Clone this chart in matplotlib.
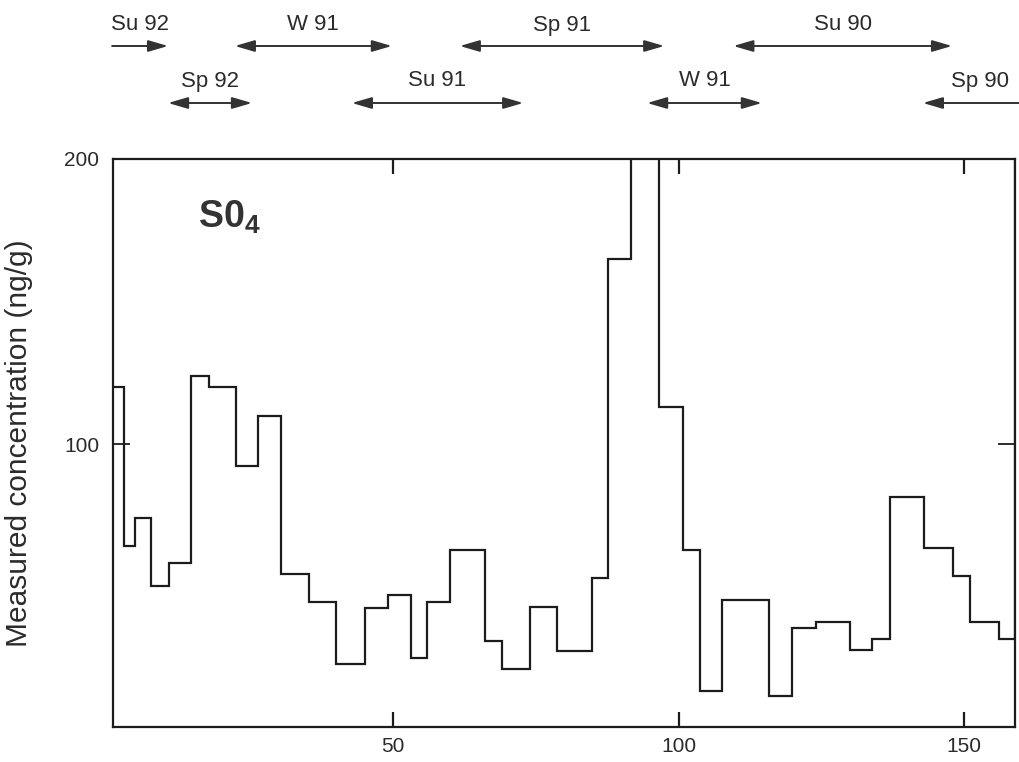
import matplotlib
matplotlib.use("Agg")
import matplotlib.pyplot as plt

# ---- data ----
edges = [1.0, 2.9, 4.8, 7.7, 10.8, 14.6, 17.7, 22.5, 26.4, 30.3,
         35.3, 40.1, 45.1, 49.2, 53.1, 55.9, 60.0, 66.1, 69.1, 74.0,
         78.8, 84.8, 87.7, 91.6, 96.6, 100.7, 103.8, 107.7, 115.9, 119.8,
         124.0, 130.0, 133.9, 137.0, 143.0, 148.1, 151.0, 156.1, 158.9, 161.0]
so4 = [120, 64.3, 74, 50.4, 58.4, 123.8, 120.1, 92.4, 109.8, 54.5,
       44.8, 22.9, 42.8, 47.1, 25.0, 44.8, 62.9, 31.1, 21.4, 43.0,
       27.5, 53.2, 164.8, 240, 113.1, 63.1, 13.5, 45.4, 11.7, 35.7,
       37.8, 27.8, 31.7, 81.5, 63.7, 53.9, 37.8, 31.7, 240]

season_labels = ["Su 92", "W 91", "Sp 91", "Su 90", "Sp 92", "Su 91", "W 91", "Sp 90"]
season_start = [0.8, 22.3, 61.7, 109.6, 10.6, 42.8, 94.5, 142.8]
season_end = [10.6, 49.8, 97.5, 147.9, 25.3, 72.8, 114.6, 163.0]
season_row = [0, 0, 0, 0, 1, 1, 1, 1]
season_heads = ["-|>", "<|-|>", "<|-|>", "<|-|>", "<|-|>", "<|-|>", "<|-|>", "<|-"]

xticks = [50, 100, 150]
yticks = [100, 200]

# ---- style ----
plt.rcParams['font.family'] = ['Liberation Sans', 'DejaVu Sans']
plt.rcParams['mathtext.fontset'] = 'custom'
plt.rcParams['mathtext.rm'] = 'Liberation Sans'
plt.rcParams['mathtext.bf'] = 'Liberation Sans:bold'

ink = '#1c1c1c'
txt = '#2b2b2b'

W, H = 1019, 762
fig = plt.figure(figsize=(W / 100, H / 100), dpi=100)
ax_l, ax_r, ax_t, ax_b = 113, 1015, 158.5, 727
ax = fig.add_axes([ax_l / W, 1 - ax_b / H, (ax_r - ax_l) / W, (ax_b - ax_t) / H])

ax.stairs(so4, edges, baseline=None, color=ink, lw=1.6)

ax.set_xlim(0.96, 158.93)
ax.set_ylim(1, 200)

for s in ax.spines.values():
    s.set_color(ink)
    s.set_linewidth(1.6)

ax.set_xticks(xticks)
ax.set_xticklabels([str(v) for v in xticks])
ax.set_yticks(yticks)
ax.set_yticklabels([str(v) for v in yticks])
ax.tick_params(axis='x', direction='in', length=11, width=1.6, color=ink,
               top=True, labelsize=15, labelcolor=txt, pad=7)
ax.tick_params(axis='y', direction='in', length=12, width=1.3, color=ink,
               labelsize=15, labelcolor=txt, pad=10)
ax.tick_params(axis='y', which='major', right=True)

ax.set_ylabel("Measured concentration (ng/g)", fontsize=21.5, color=txt, labelpad=22)

ax.text(0.094, 0.878, r"$\mathbf{S0_4}$", transform=ax.transAxes,
        fontsize=27, color='#333333', va='baseline', ha='left')

# ---- season arrows above the plot ----
arrow_y = [1 - 46 / H, 1 - 103 / H]
label_y = [1 - 25 / H, 1 - 81 / H]
for lab, x0, x1, r, hs in zip(season_labels, season_start, season_end, season_row, season_heads):
    ax.annotate("", xy=(x1, arrow_y[r]), xytext=(x0, arrow_y[r]),
                xycoords=('data', 'figure fraction'),
                textcoords=('data', 'figure fraction'),
                arrowprops=dict(arrowstyle=hs + ",head_length=1.2,head_width=0.35",
                                mutation_scale=10, lw=1.4, color='#333333',
                                shrinkA=0, shrinkB=0),
                annotation_clip=False)
    xc = (x0 + min(x1, 159.6)) / 2 if lab != "Sp 90" else 152.8
    ax.annotate(lab, xy=(xc, label_y[r]), xycoords=('data', 'figure fraction'),
                ha='center', va='center', fontsize=16, color=txt,
                annotation_clip=False)

fig.savefig("out.png", dpi=100)
